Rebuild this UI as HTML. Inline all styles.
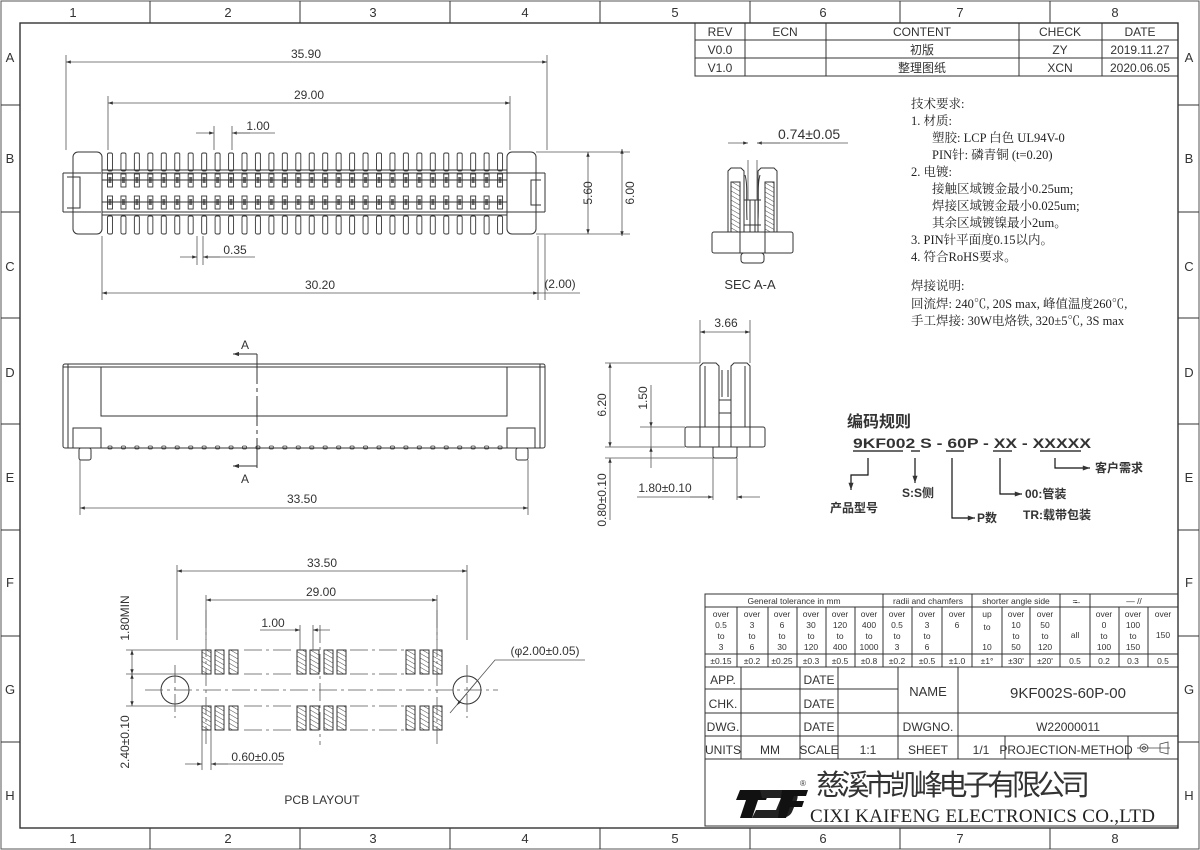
<!DOCTYPE html>
<html><head><meta charset="utf-8"><style>
html,body{margin:0;padding:0;background:#fff}
svg{display:block}
text{font-family:"Liberation Sans","Noto Sans CJK SC",sans-serif;fill:#333}
.s{font-family:"Liberation Serif","Noto Serif CJK SC",serif;fill:#222}
.d{font-size:12px;fill:#444}
</style></head><body>
<svg width="1200" height="850" viewBox="0 0 1200 850" xmlns="http://www.w3.org/2000/svg">
<defs>
<marker id="a" viewBox="0 0 10 10" refX="10" refY="5" markerWidth="8" markerHeight="6" orient="auto-start-reverse"><path d="M0,1.5L10,5L0,8.5z" fill="#333"/></marker>
<pattern id="pinT" x="107" y="0" width="13.45" height="850" patternUnits="userSpaceOnUse">
<rect x="0.5" y="153" width="5" height="18" rx="1.5" fill="none" stroke="#333" stroke-width="0.9"/>
<rect x="0.5" y="216" width="5" height="18" rx="1.5" fill="none" stroke="#333" stroke-width="0.9"/>
<rect x="0.5" y="174" width="5" height="13" fill="none" stroke="#333" stroke-width="0.9"/>
<rect x="1.5" y="177" width="3" height="6" fill="#666"/>
<rect x="0.5" y="196" width="5" height="13" fill="none" stroke="#333" stroke-width="0.9"/>
<rect x="1.5" y="199" width="3" height="6" fill="#666"/>
<rect x="1" y="446" width="4" height="3" rx="1" fill="none" stroke="#333" stroke-width="0.8"/>
</pattern>
<pattern id="hat" width="4" height="4" patternUnits="userSpaceOnUse" patternTransform="rotate(-60)"><line x1="0" y1="0" x2="0" y2="4" stroke="#333" stroke-width="0.9"/></pattern>
</defs>
<g fill="none" stroke="#333" stroke-width="1">
<rect x="1" y="1" width="1198" height="848" stroke="#555"/>
<rect x="20" y="23" width="1158" height="805" stroke-width="1.4"/>
<path d="M150,1V23M300,1V23M450,1V23M600,1V23M750,1V23M900,1V23M1050,1V23M150,828V849M300,828V849M450,828V849M600,828V849M750,828V849M900,828V849M1050,828V849"/>
<path d="M1,105H20M1,212H20M1,318H20M1,424H20M1,530H20M1,636H20M1,742H20M1178,105H1199M1178,212H1199M1178,318H1199M1178,424H1199M1178,530H1199M1178,636H1199M1178,742H1199"/>
<path d="M695,23V76H1178M695,40H1178M695,58H1178M745,23V76M826,23V76M1019,23V76M1102,23V76"/>
</g>
<g font-size="13" text-anchor="middle">
<text x="73" y="17">1</text><text x="228" y="17">2</text><text x="373" y="17">3</text><text x="525" y="17">4</text><text x="675" y="17">5</text><text x="823" y="17">6</text><text x="960" y="17">7</text><text x="1115" y="17">8</text>
<text x="73" y="843">1</text><text x="228" y="843">2</text><text x="373" y="843">3</text><text x="525" y="843">4</text><text x="675" y="843">5</text><text x="823" y="843">6</text><text x="960" y="843">7</text><text x="1115" y="843">8</text>
<text x="10" y="62">A</text><text x="10" y="163">B</text><text x="10" y="271">C</text><text x="10" y="377">D</text><text x="10" y="482">E</text><text x="10" y="587">F</text><text x="10" y="694">G</text><text x="10" y="800">H</text>
<text x="1189" y="62">A</text><text x="1189" y="163">B</text><text x="1189" y="271">C</text><text x="1189" y="377">D</text><text x="1189" y="482">E</text><text x="1189" y="587">F</text><text x="1189" y="694">G</text><text x="1189" y="800">H</text>
</g>
<g font-size="12" text-anchor="middle" fill="#555">
<text x="720" y="36">REV</text><text x="785" y="36">ECN</text><text x="922" y="36">CONTENT</text><text x="1060" y="36">CHECK</text><text x="1140" y="36">DATE</text>
<text x="720" y="54">V0.0</text><text x="922" y="54">初版</text><text x="1060" y="54">ZY</text><text x="1140" y="54">2019.11.27</text>
<text x="720" y="72">V1.0</text><text x="922" y="72">整理图纸</text><text x="1060" y="72">XCN</text><text x="1140" y="72">2020.06.05</text>
</g>
<g class="s" font-size="12.5">
<text class="s" x="911" y="108">技术要求:</text>
<text class="s" x="911" y="125">1.  材质:</text>
<text class="s" x="932" y="142">塑胶: LCP 白色 UL94V-0</text>
<text class="s" x="932" y="159">PIN针: 磷青铜  (t=0.20)</text>
<text class="s" x="911" y="176">2.  电镀:</text>
<text class="s" x="932" y="193">接触区域镀金最小0.25um;</text>
<text class="s" x="932" y="210">焊接区域镀金最小0.025um;</text>
<text class="s" x="932" y="227">其余区域镀镍最小2um。</text>
<text class="s" x="911" y="244">3.  PIN针平面度0.15以内。</text>
<text class="s" x="911" y="261">4.  符合RoHS要求。</text>
<text class="s" x="911" y="290">焊接说明:</text>
<text class="s" x="911" y="308">回流焊: 240℃, 20S max, 峰值温度260℃,</text>
<text class="s" x="911" y="325">手工焊接: 30W电烙铁, 320±5℃, 3S max</text>
</g>
<g fill="none" stroke="#333" stroke-width="1">
<rect x="104" y="150" width="404" height="90" fill="url(#pinT)" stroke="none"/>
<rect x="73" y="152" width="29" height="82" rx="5"/>
<rect x="507" y="152" width="29" height="82" rx="5"/>
<path d="M63,173H101M63,212H101M63,173V212M67,177H80V208H67M80,177V208"/>
<path d="M545,173H507M545,212H507M545,173V212M541,180H531V205H541"/>
<path d="M102,170H507M102,173H507M102,212H507M102,215H507M102,180H507M102,202H507"/>
<g stroke="#555" stroke-width="0.8">
<path d="M66,150V55M547,150V55M108,150V96M510,150V96M214,150V126M232,150V126M536,152H630M536,234H630M545,234V300M102,236V300M538,236V300M197,236V265M203,236V265"/>
<path d="M66,62H547" marker-start="url(#a)" marker-end="url(#a)"/>
<path d="M108,103H510" marker-start="url(#a)" marker-end="url(#a)"/>
<path d="M196,133H214" marker-end="url(#a)"/><path d="M250,133H232" marker-end="url(#a)"/><path d="M232,133H275"/>
<path d="M588,152V234" marker-start="url(#a)" marker-end="url(#a)"/>
<path d="M622,149V236" marker-start="url(#a)" marker-end="url(#a)"/>
<path d="M180,257H197" marker-end="url(#a)"/><path d="M220,257H203" marker-end="url(#a)"/><path d="M203,257H255"/>
<path d="M102,293H538" marker-start="url(#a)" marker-end="url(#a)"/>
<path d="M538,293H580"/>
</g>
</g>
<g class="d" text-anchor="middle" font-size="12">
<text x="306" y="58" fill="#444">35.90</text>
<text x="309" y="99" fill="#444">29.00</text>
<text x="258" y="130" fill="#444">1.00</text>
<text x="235" y="254" fill="#444">0.35</text>
<text x="320" y="289" fill="#444">30.20</text>
<text x="560" y="288" fill="#444">(2.00)</text>
<text transform="translate(592,193) rotate(-90)" fill="#444">5.60</text>
<text transform="translate(634,193) rotate(-90)" fill="#444">6.00</text>
</g>
<g fill="none" stroke="#333" stroke-width="1">
<path d="M728,171L731,168H741L744,171V232H728Z"/>
<path d="M777,171L774,168H761L758,171V232H777Z"/>
<rect x="731" y="182" width="9" height="50" fill="url(#hat)"/>
<rect x="765" y="182" width="9" height="50" fill="url(#hat)"/>
<rect x="712" y="232" width="81" height="21" rx="2"/>
<path d="M740,232V253M765,232V253M744,200H761M744,225H761"/>
<rect x="741" y="253" width="23" height="10" rx="3"/>
<path d="M745,175C748,185 746,200 747,220M760,175C757,185 759,200 758,220M750,200V232M755,200V232"/>
<g stroke="#555" stroke-width="0.8"><path d="M748,160V200M757,160V200"/><path d="M728,143H748" marker-end="url(#a)"/><path d="M780,143H757" marker-end="url(#a)"/><path d="M757,143H848"/></g>
</g>
<text x="778" y="139" font-size="14" fill="#444">0.74±0.05</text>
<text x="750" y="289" font-size="13" text-anchor="middle">SEC A-A</text>
<g fill="none" stroke="#333" stroke-width="1">
<path d="M700,427V366L703,363H716L719,366V427M705,366V427"/>
<path d="M750,427V366L747,363H734L731,366V427M745,366V427"/>
<path d="M719,400H731M719,413H731M722,370V397M728,370V397"/>
<rect x="685" y="427" width="80" height="20" rx="2"/>
<path d="M700,427V447M750,427V447M719,427V447M731,427V447"/>
<path d="M713,447V456Q713,458 715,458H735Q737,458 737,456V447"/>
<g stroke="#555" stroke-width="0.8">
<path d="M700,363V320M750,363V320M605,363H700M605,447H685M640,427H685M605,458H713M713,458V500M737,458V500"/>
<path d="M700,332H750" marker-start="url(#a)" marker-end="url(#a)"/>
<path d="M610,363V447" marker-start="url(#a)" marker-end="url(#a)"/>
<path d="M651,385V427" marker-end="url(#a)"/><path d="M651,468V447" marker-end="url(#a)"/><path d="M651,447V427"/>
<path d="M610,520V458" marker-end="url(#a)"/>
<path d="M690,497H713" marker-end="url(#a)"/><path d="M760,497H737" marker-end="url(#a)"/><path d="M637,497H713"/>
</g>
</g>
<g class="d" font-size="12" text-anchor="middle">
<text x="726" y="327" fill="#444">3.66</text>
<text transform="translate(606,405) rotate(-90)" fill="#444">6.20</text>
<text transform="translate(647,398) rotate(-90)" fill="#444">1.50</text>
<text transform="translate(606,500) rotate(-90)" fill="#444">0.80±0.10</text>
<text x="665" y="492" fill="#444">1.80±0.10</text>
</g>
<g fill="none" stroke="#333" stroke-width="1">
<rect x="63" y="364" width="482" height="84" rx="2"/>
<path d="M68,364V448M540,364V448M63,367H545"/>
<rect x="101" y="367" width="406" height="49"/>
<rect x="73" y="428" width="28" height="20"/>
<rect x="507" y="428" width="28" height="20"/>
<rect x="79" y="448" width="12" height="12" rx="2"/>
<rect x="516" y="448" width="12" height="12" rx="2"/>
<rect x="104" y="440" width="404" height="12" fill="url(#pinT)" stroke="none"/>
<path d="M257,354V470" stroke-dasharray="30,4,4,4"/>
<path d="M257,354H233" marker-end="url(#a)"/>
<path d="M257,466H233" marker-end="url(#a)"/>
<g stroke="#555" stroke-width="0.8"><path d="M80,460V515M528,460V515"/><path d="M80,508H528" marker-start="url(#a)" marker-end="url(#a)"/></g>
</g>
<text x="245" y="349" font-size="12" text-anchor="middle">A</text>
<text x="245" y="483" font-size="12" text-anchor="middle">A</text>
<text x="302" y="503" font-size="12" text-anchor="middle" fill="#444">33.50</text>
<g>
<text x="847" y="427" font-size="16" fill="#111" font-weight="bold">编码规则</text>
<text x="853" y="448" font-size="14" fill="#111" font-weight="bold" textLength="238" lengthAdjust="spacingAndGlyphs">9KF002 S - 60P - XX - XXXXX</text>
</g>
<g fill="none" stroke="#111" stroke-width="1.2">
<path d="M853,451H903M911,451H920M946,451H964M993,451H1012M1040,451H1081"/>
<path d="M868,458V475H851V490" marker-end="url(#a)"/>
<path d="M915,458V483" marker-end="url(#a)"/>
<path d="M952,458V518H975" marker-end="url(#a)"/>
<path d="M1000,458V494H1022" marker-end="url(#a)"/>
<path d="M1055,458V468H1090" marker-end="url(#a)"/>
</g>
<g font-size="12" fill="#111" font-weight="bold">
<text x="830" y="512" fill="#111">产品型号</text>
<text x="902" y="497" fill="#111">S:S侧</text>
<text x="977" y="522" fill="#111">P数</text>
<text x="1025" y="498" fill="#111">00:管装</text>
<text x="1023" y="519" fill="#111">TR:载带包装</text>
<text x="1095" y="472" fill="#111">客户需求</text>
</g>
<g fill="none" stroke="#333" stroke-width="1">
<g fill="url(#hat)">
<rect x="202" y="650" width="9" height="24"/><rect x="215" y="650" width="9" height="24"/><rect x="229" y="650" width="9" height="24"/>
<rect x="297" y="650" width="9" height="24"/><rect x="310" y="650" width="9" height="24"/><rect x="324" y="650" width="9" height="24"/><rect x="337" y="650" width="9" height="24"/>
<rect x="406" y="650" width="9" height="24"/><rect x="420" y="650" width="9" height="24"/><rect x="433" y="650" width="9" height="24"/>
<rect x="202" y="706" width="9" height="24"/><rect x="215" y="706" width="9" height="24"/><rect x="229" y="706" width="9" height="24"/>
<rect x="297" y="706" width="9" height="24"/><rect x="310" y="706" width="9" height="24"/><rect x="324" y="706" width="9" height="24"/><rect x="337" y="706" width="9" height="24"/>
<rect x="406" y="706" width="9" height="24"/><rect x="420" y="706" width="9" height="24"/><rect x="433" y="706" width="9" height="24"/>
</g>
<circle cx="175" cy="690" r="14"/><circle cx="467" cy="690" r="14"/>
<g stroke="#555" stroke-width="0.8" stroke-dasharray="18,4,3,4">
<path d="M145,690H498M244,650H294M244,674H294M350,650H404M350,674H404M244,706H294M244,730H294M350,706H404M350,730H404M175,665V718M467,665V718M206,610V745M437,610V745M320,625V745"/>
</g>
<g stroke="#555" stroke-width="0.8">
<path d="M177,565V640M467,565V640M206,595V640M437,595V640M300,625V650M313,625V650"/>
<path d="M177,571H467" marker-start="url(#a)" marker-end="url(#a)"/>
<path d="M206,600H437" marker-start="url(#a)" marker-end="url(#a)"/>
<path d="M260,630H300" marker-end="url(#a)"/><path d="M330,630H313" marker-end="url(#a)"/>
<path d="M126,650H202M126,674H202M126,706H202"/>
<path d="M132,650V674" marker-start="url(#a)" marker-end="url(#a)"/>
<path d="M132,674V706" marker-start="url(#a)" marker-end="url(#a)"/>
<path d="M202,730V770M211,730V770"/>
<path d="M185,764H202" marker-end="url(#a)"/><path d="M228,764H211" marker-end="url(#a)"/><path d="M211,764H283"/>
<path d="M450,713L495,660H585"/><path d="M478,680L457,705" marker-end="url(#a)"/>
</g>
</g>
<g font-size="12" text-anchor="middle" fill="#444">
<text x="322" y="567" fill="#444">33.50</text>
<text x="321" y="596" fill="#444">29.00</text>
<text x="273" y="627" fill="#444">1.00</text>
<text transform="translate(129,618) rotate(-90)" fill="#444">1.80MIN</text>
<text transform="translate(129,742) rotate(-90)" fill="#444">2.40±0.10</text>
<text x="258" y="761" fill="#444">0.60±0.05</text>
<text x="545" y="655" fill="#444">(φ2.00±0.05)</text>
<text x="322" y="804" fill="#444">PCB LAYOUT</text>
</g>
<g fill="none" stroke="#333" stroke-width="1">
<rect x="705" y="594" width="473" height="232"/>
<path d="M705,607H1178M705,654H1178M705,667H1178M705,689H898M705,713H1178M705,736H1178M705,759H1178"/>
<path d="M737,607V667M768,607V667M797,607V667M826,607V667M855,607V667M912,607V667M942,607V667M1002,607V667M1030,607V667M1119,607V667M1148,607V667M883,594V667M972,594V667M1060,594V667M1090,594V667"/>
<path d="M741,667V759M800,667V759M838,667V759M898,667V759M958,667V759M1005,736V759M1128,736V759"/>
</g>
<g font-size="8.5" text-anchor="middle" fill="#444">
<text x="794" y="604">General tolerance in mm</text><text x="928" y="604">radii and chamfers</text><text x="1016" y="604">shorter angle side</text><text x="1075" y="604">=̶</text><text x="1134" y="604">—  //</text>
<text x="721" y="617">over</text><text x="721" y="628">0.5</text><text x="721" y="639">to</text><text x="721" y="650">3</text>
<text x="752" y="617">over</text><text x="752" y="628">3</text><text x="752" y="639">to</text><text x="752" y="650">6</text>
<text x="782" y="617">over</text><text x="782" y="628">6</text><text x="782" y="639">to</text><text x="782" y="650">30</text>
<text x="811" y="617">over</text><text x="811" y="628">30</text><text x="811" y="639">to</text><text x="811" y="650">120</text>
<text x="840" y="617">over</text><text x="840" y="628">120</text><text x="840" y="639">to</text><text x="840" y="650">400</text>
<text x="869" y="617">over</text><text x="869" y="628">400</text><text x="869" y="639">to</text><text x="869" y="650">1000</text>
<text x="897" y="617">over</text><text x="897" y="628">0.5</text><text x="897" y="639">to</text><text x="897" y="650">3</text>
<text x="927" y="617">over</text><text x="927" y="628">3</text><text x="927" y="639">to</text><text x="927" y="650">6</text>
<text x="957" y="617">over</text><text x="957" y="628">6</text>
<text x="987" y="617">up</text><text x="987" y="630">to</text><text x="987" y="650">10</text>
<text x="1016" y="617">over</text><text x="1016" y="628">10</text><text x="1016" y="639">to</text><text x="1016" y="650">50</text>
<text x="1045" y="617">over</text><text x="1045" y="628">50</text><text x="1045" y="639">to</text><text x="1045" y="650">120</text>
<text x="1075" y="638">all</text>
<text x="1104" y="617">over</text><text x="1104" y="628">0</text><text x="1104" y="639">to</text><text x="1104" y="650">100</text>
<text x="1133" y="617">over</text><text x="1133" y="628">100</text><text x="1133" y="639">to</text><text x="1133" y="650">150</text>
<text x="1163" y="617">over</text><text x="1163" y="638">150</text>
<text x="721" y="664">±0.15</text><text x="752" y="664">±0.2</text><text x="782" y="664">±0.25</text><text x="811" y="664">±0.3</text><text x="840" y="664">±0.5</text><text x="869" y="664">±0.8</text><text x="897" y="664">±0.2</text><text x="927" y="664">±0.5</text><text x="957" y="664">±1.0</text><text x="987" y="664">±1°</text><text x="1016" y="664">±30'</text><text x="1045" y="664">±20'</text><text x="1075" y="664">0.5</text><text x="1104" y="664">0.2</text><text x="1133" y="664">0.3</text><text x="1163" y="664">0.5</text>
</g>
<g font-size="12" text-anchor="middle" fill="#444">
<text x="723" y="684">APP.</text><text x="819" y="684">DATE</text>
<text x="723" y="708">CHK.</text><text x="819" y="708">DATE</text>
<text x="723" y="731">DWG.</text><text x="819" y="731">DATE</text>
<text x="723" y="754">UNITS</text><text x="770" y="754">MM</text><text x="819" y="754">SCALE</text><text x="868" y="754">1:1</text>
<text x="928" y="696" font-size="13">NAME</text>
<text x="1068" y="698" font-size="15">9KF002S-60P-00</text>
<text x="928" y="731">DWGNO.</text><text x="1068" y="731">W22000011</text>
<text x="928" y="754">SHEET</text><text x="981" y="754">1/1</text><text x="1066" y="754">PROJECTION-METHOD</text>
</g>
<g fill="none" stroke="#444" stroke-width="0.8"><circle cx="1144" cy="748" r="4"/><circle cx="1144" cy="748" r="1.5"/><path d="M1137,748H1170M1160,744L1168,742V754L1160,752Z"/></g>
<g fill="#111">
<path d="M740,790H770L766,800H758L752,818H740L746,800H736Z"/>
<path d="M760,790H790Q800,790 797,800L792,812Q789,818 780,818H752L756,810H776L781,798H762Z" fill="#222"/>
<path d="M782,790H808L806,796H794L792,801H804L802,807H790L786,818H778Z"/>
</g>
<text x="800" y="786" font-size="8" fill="#333">®</text>
<text x="816" y="795" font-size="29" fill="#111" textLength="274">慈溪市凯峰电子有限公司</text>
<text class="s" x="810" y="822" font-size="19" fill="#111" textLength="345">CIXI KAIFENG ELECTRONICS CO.,LTD</text>
</svg>
</body></html>
